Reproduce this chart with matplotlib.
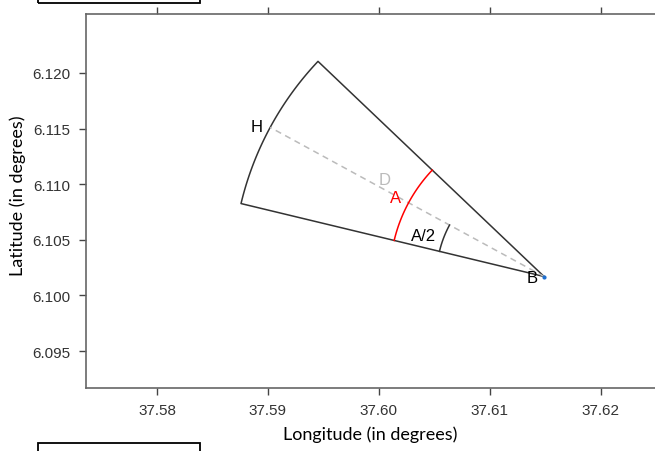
import numpy as np
import matplotlib.pyplot as plt
from matplotlib.patches import Rectangle

# sector geometry (degrees)
B = [37.6149, 6.1017]          # apex (lon, lat)
heading = 151.5                # direction of the centre line, math angle in deg
A = 30.0                       # opening angle
radius = 0.0281                # outer radius (deg)
r_A = 0.0139                   # radius of the red arc "A"
r_half = 0.0097                # radius of the small arc "A/2"

xticks = [37.58, 37.59, 37.60, 37.61, 37.62]
yticks = [6.095, 6.100, 6.105, 6.110, 6.115, 6.120]

W, H = 655, 452
fig = plt.figure(figsize=(W / 100, H / 100), dpi=100)
ax = fig.add_axes([86 / W, 1 - 389 / H, 1 - 86 / W, (389 - 15) / H])


def arc(r, a0, a1, n=100):
    t = np.radians(np.linspace(a0, a1, n))
    return B[0] + r * np.cos(t), B[1] + r * np.sin(t)


a_lo = heading - A / 2
a_hi = heading + A / 2
xa, ya = arc(radius, a_lo, a_hi)
sx = np.concatenate([[B[0]], xa, [B[0]]])
sy = np.concatenate([[B[1]], ya, [B[1]]])
ax.plot(sx, sy, color="#333333", lw=1.1)

# centre line B -> H
hx = B[0] + radius * np.cos(np.radians(heading))
hy = B[1] + radius * np.sin(np.radians(heading))
ax.plot([B[0], hx], [B[1], hy], color="#bbbbbb", lw=1.1, ls=(0, (4, 3)))

xr, yr = arc(r_A, a_lo, a_hi)
ax.plot(xr, yr, color="red", lw=1.1)
xh, yh = arc(r_half, heading, a_hi)
ax.plot(xh, yh, color="#333333", lw=1.1)
ax.plot(B[0], B[1], "o", color="#1f6fd0", ms=2)

tf = dict(family="Liberation Sans", fontsize=12)
ax.text(hx - 0.0012, hy + 0.0001, "H", ha="center", va="center", **tf)
ax.text(B[0] - 0.0011, B[1] - 0.0001, "B", ha="center", va="center", **tf)
ax.text(37.6005, 6.1104, "D", color="#bbbbbb", ha="center", va="center", **tf)
ax.text(37.6015, 6.1088, "A", color="red", ha="center", va="center", **tf)
ax.text(37.6040, 6.1054, "A/2", ha="center", va="center", **tf)

ax.set_xlim(37.5736, 37.6249)
ax.set_ylim(6.09168, 6.1253)
ax.set_xticks(xticks)
ax.set_yticks(yticks)
ax.set_xticklabels(["%.2f" % v for v in xticks])
ax.set_yticklabels(["%.3f" % v for v in yticks])
ax.tick_params(which="both", direction="out", length=5, width=1, color="#444444",
               labelsize=11, pad=6, top=True, labeltop=False)
for lab in ax.get_xticklabels() + ax.get_yticklabels():
    lab.set_family("Liberation Sans")
    lab.set_color("#333333")
ax.spines["right"].set_visible(False)
for s in ["left", "top", "bottom"]:
    ax.spines[s].set_color("#666666")
    ax.spines[s].set_linewidth(1.2)

fig.text(370 / W, 1 - 435 / H, "Longitude (in degrees)", ha="center", va="center",
         family="Lato", fontsize=13)
fig.text(18 / W, 1 - 196 / H, "Latitude (in degrees)", ha="center", va="center",
         rotation=90, family="Lato", fontsize=13)

# boxes cut at the edges
for (x0, y0, x1, y1) in [(38, -10, 200, 3.5), (38, 443.5, 200, 470)]:
    fig.add_artist(Rectangle((x0 / W, 1 - y1 / H), (x1 - x0) / W, (y1 - y0) / H,
                             transform=fig.transFigure, fill=False,
                             edgecolor="black", lw=1.3, clip_on=False))

fig.savefig("out.png", dpi=100)
